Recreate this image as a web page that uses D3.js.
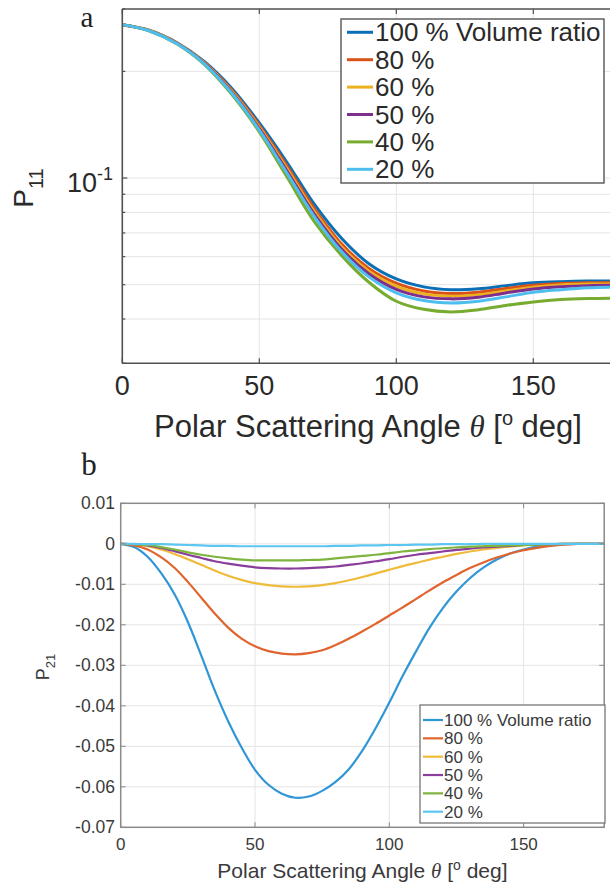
<!DOCTYPE html>
<html><head><meta charset="utf-8">
<script src="https://cdn.jsdelivr.net/npm/d3@7"></script>
<style>
body{margin:0;background:#fff;}
svg{display:block;}
svg{font-family:"Liberation Sans",Arial,Helvetica,sans-serif;}
</style>
</head><body>
<svg id="c" width="610" height="884"></svg>
<script>
// ---------- data ----------
const seriesNames = ["100 % Volume ratio","80 %","60 %","50 %","40 %","20 %"];
const seriesColorsA = ["#0b6fb6","#d95319","#edb120","#7e2f8e","#77ac30","#4dbeee"];
const seriesColorsB = ["#3096d6","#e0642e","#efbb3a","#8a3d9a","#7fb43e","#5cc6f0"];

// Panel a: P11 (log scale)
const anglesP11 = [0,10,20,30,40,50,60,70,80,90,100,110,120,130,140,150,160,170,180];
const p11_100 = [0.271,0.261,0.241,0.213,0.179,0.143,0.111,0.0845,0.0676,0.0573,0.0519,0.0493,0.0484,0.0487,0.0497,0.0506,0.0510,0.0512,0.0512];
const p11_80  = [0.271,0.261,0.2405,0.2118,0.177,0.1408,0.1085,0.0822,0.0652,0.0556,0.0505,0.0480,0.0472,0.0476,0.0488,0.0498,0.0504,0.0506,0.0507];
const p11_60  = [0.271,0.2605,0.240,0.211,0.1755,0.1392,0.1065,0.0805,0.0640,0.0546,0.0495,0.0471,0.0464,0.0468,0.0480,0.0492,0.0499,0.0502,0.0502];
const p11_50  = [0.271,0.2603,0.2397,0.2103,0.1745,0.1378,0.105,0.0792,0.063,0.0537,0.0485,0.0462,0.0456,0.0461,0.0474,0.0486,0.0493,0.0497,0.0498];
const p11_40  = [0.271,0.260,0.239,0.209,0.172,0.135,0.101,0.0755,0.0605,0.0508,0.0449,0.0426,0.0419,0.0425,0.0437,0.0447,0.0454,0.0457,0.0458];
const p11_20  = [0.271,0.2601,0.2393,0.2098,0.1735,0.1365,0.1035,0.078,0.062,0.0526,0.0474,0.0451,0.0444,0.0449,0.0462,0.0476,0.0484,0.0490,0.0492];

// Panel b: P21
const anglesP21 = [0,5,10,15,20,25,30,35,40,45,50,55,60,65,70,75,80,85,90,95,100,105,110,115,120,125,130,135,140,145,150,155,160,165,170,175,180];
const p21_100 = [0,-0.0008,-0.0032,-0.0072,-0.0124,-0.0193,-0.0276,-0.0362,-0.0438,-0.0503,-0.0558,-0.0595,-0.0617,-0.0627,-0.0624,-0.0610,-0.0588,-0.0556,-0.0510,-0.0454,-0.0392,-0.0326,-0.0265,-0.0207,-0.0158,-0.0118,-0.0085,-0.0059,-0.0039,-0.0024,-0.0014,-0.0007,-0.0003,-0.0001,0,0,0];
const p21_80  = [0,-0.0004,-0.0014,-0.0033,-0.0059,-0.0094,-0.0133,-0.0172,-0.0207,-0.0234,-0.0253,-0.0265,-0.0271,-0.0273,-0.0270,-0.0263,-0.0250,-0.0234,-0.0216,-0.0197,-0.0177,-0.0157,-0.0136,-0.0115,-0.0095,-0.0077,-0.0060,-0.0046,-0.0034,-0.0024,-0.0016,-0.0010,-0.0005,-0.0002,0,0,0];
const p21_60  = [0,-0.0001,-0.0006,-0.0014,-0.0025,-0.0038,-0.0052,-0.0066,-0.0079,-0.0089,-0.0097,-0.0102,-0.0105,-0.0106,-0.0105,-0.0102,-0.0097,-0.0090,-0.0082,-0.0073,-0.0064,-0.0055,-0.0047,-0.0039,-0.0032,-0.0025,-0.0019,-0.0014,-0.0010,-0.0007,-0.0004,-0.0002,-0.0001,0,0,0,0];
const p21_50  = [0,-0.0001,-0.0004,-0.0010,-0.0018,-0.0027,-0.0035,-0.0043,-0.0049,-0.0054,-0.0058,-0.0060,-0.0061,-0.0061,-0.0060,-0.0058,-0.0056,-0.0052,-0.0048,-0.0043,-0.0038,-0.0032,-0.0027,-0.0023,-0.0019,-0.0015,-0.0012,-0.0009,-0.0007,-0.0005,-0.0003,-0.0002,-0.0001,0,0,0,0];
const p21_40  = [0,-0.0001,-0.0003,-0.0008,-0.0014,-0.0021,-0.0027,-0.0032,-0.0036,-0.0039,-0.0041,-0.0041,-0.0041,-0.0041,-0.0040,-0.0039,-0.0036,-0.0033,-0.0030,-0.0027,-0.0023,-0.0019,-0.0016,-0.0013,-0.0011,-0.0009,-0.0007,-0.0006,-0.0005,-0.0004,-0.0003,-0.0002,-0.0001,0,0,0,0];
const p21_20  = [0,0,-0.0001,-0.0001,-0.0002,-0.0003,-0.0004,-0.0005,-0.0005,-0.0006,-0.0006,-0.0006,-0.0006,-0.0006,-0.0006,-0.0006,-0.0005,-0.0005,-0.0004,-0.0004,-0.0003,-0.0003,-0.0002,-0.0002,-0.0001,-0.0001,-0.0001,0,0,0,0,0,0,0,0,0,0];

// ticks
const xTicks = [0,50,100,150];
const yTicksP11Major = [0.1];
const yTicksP11Minor = [0.03,0.04,0.05,0.06,0.07,0.08,0.09,0.2,0.3];
const yGridP11 = [0.04,0.05,0.06,0.07,0.08,0.09,0.1,0.2];
const yTicksP21 = [0.01,0,-0.01,-0.02,-0.03,-0.04,-0.05,-0.06,-0.07];
const yTickLabelsP21 = ["0.01","0","-0.01","-0.02","-0.03","-0.04","-0.05","-0.06","-0.07"];

const P11 = [p11_100,p11_80,p11_60,p11_50,p11_40,p11_20];
const P21 = [p21_100,p21_80,p21_60,p21_50,p21_40,p21_20];

const svg = d3.select("#c");
const gridC = "#e4e4e4";
const SERIF = '"Liberation Serif","Times New Roman",Times,serif';

function axisLabel(g, x, y, size, supSize, supDy, color){
  const t = g.append("text").attr("x",x).attr("y",y).attr("text-anchor","middle").attr("font-size",size).attr("fill",color);
  t.append("tspan").text("Polar Scattering Angle ");
  t.append("tspan").style("font-family",SERIF).style("font-style","italic").text("θ");
  t.append("tspan").text(" [");
  t.append("tspan").attr("font-size",supSize).attr("dy",-supDy).text("o");
  t.append("tspan").attr("dy",supDy).text(" deg]");
  return t;
}

// ---------- panel a ----------
(function(){
  const x = d3.scaleLinear().domain([0,180]).range([122.3,615.5]);
  const y = d3.scaleLog().domain([0.03,0.3]).range([363.3,9]);
  const g = svg.append("g");
  const [x0,x1] = x.range(), [y0,y1] = y.range();
  g.append("clipPath").attr("id","clipA").append("rect").attr("x",x0).attr("y",y1).attr("width",x1-x0).attr("height",y0-y1);
  g.selectAll(".vg").data(xTicks.filter(d=>d>0)).join("line")
    .attr("x1",d=>x(d)).attr("x2",d=>x(d)).attr("y1",y1).attr("y2",y0).attr("stroke",gridC).attr("stroke-width",1);
  g.selectAll(".hg").data(yGridP11).join("line")
    .attr("x1",x0).attr("x2",x1).attr("y1",d=>y(d)).attr("y2",d=>y(d)).attr("stroke",gridC).attr("stroke-width",1);
  const line = d3.line().x((d,i)=>x(anglesP11[i])).y(d=>y(d)).curve(d3.curveCatmullRom.alpha(0.5));
  g.append("g").attr("clip-path","url(#clipA)").selectAll("path").data(P11).join("path")
    .attr("d",line).attr("fill","none").attr("stroke",(d,i)=>seriesColorsA[i]).attr("stroke-width",3);
  const axC = "#505050";
  g.append("line").attr("x1",x0).attr("x2",x0).attr("y1",y1).attr("y2",y0).attr("stroke",axC).attr("stroke-width",1.6);
  g.append("line").attr("x1",x0).attr("x2",x1).attr("y1",y0).attr("y2",y0).attr("stroke",axC).attr("stroke-width",1.6);
  g.append("line").attr("x1",x0).attr("x2",x1).attr("y1",y1).attr("y2",y1).attr("stroke",axC).attr("stroke-width",1.6);
  g.selectAll(".xtb").data(xTicks).join("line").attr("x1",d=>x(d)).attr("x2",d=>x(d)).attr("y1",y0).attr("y2",y0-5).attr("stroke",axC).attr("stroke-width",1.2);
  g.selectAll(".xtt").data(xTicks).join("line").attr("x1",d=>x(d)).attr("x2",d=>x(d)).attr("y1",y1).attr("y2",y1+5).attr("stroke",axC).attr("stroke-width",1.2);
  g.selectAll(".ytM").data(yTicksP11Major).join("line").attr("x1",x0).attr("x2",x0+5).attr("y1",d=>y(d)).attr("y2",d=>y(d)).attr("stroke",axC).attr("stroke-width",1.2);
  g.selectAll(".ytm").data(yTicksP11Minor).join("line").attr("x1",x0).attr("x2",x0+3).attr("y1",d=>y(d)).attr("y2",d=>y(d)).attr("stroke",axC).attr("stroke-width",1.2);
  g.selectAll(".xl").data(xTicks).join("text").attr("x",d=>x(d)).attr("y",395).attr("text-anchor","middle")
    .attr("font-size",27).attr("fill","#2a2a2a").text(d=>d);
  yTicksP11Major.forEach(v=>{
    const t = g.append("text").attr("x",113).attr("y",y(v)+14).attr("text-anchor","end").attr("fill","#2a2a2a").attr("font-size",27);
    t.append("tspan").text("10");
    t.append("tspan").attr("font-size",18).attr("dy",-12).text("-1");
  });
  axisLabel(g, 368, 437, 31, 20, 12, "#2a2a2a");
  const yl = g.append("text").attr("transform","translate(33,188) rotate(-90)").attr("text-anchor","middle").attr("font-size",28).attr("fill","#2a2a2a");
  yl.append("tspan").text("P");
  yl.append("tspan").attr("font-size",20).attr("dy",10).text("11");
  g.append("text").attr("x",87).attr("y",26.5).attr("text-anchor","middle").style("font-family",SERIF).attr("font-size",29).attr("fill","#222").text("a");
  const lg = g.append("g");
  lg.append("rect").attr("x",341).attr("y",19).attr("width",263).attr("height",164).attr("fill","#fff").attr("stroke","#555").attr("stroke-width",1.4);
  const rowY = d3.scaleLinear().domain([0,5]).range([32.3,169.3]);
  lg.selectAll("line").data(seriesNames).join("line").attr("x1",347).attr("x2",373).attr("y1",(d,i)=>rowY(i)).attr("y2",(d,i)=>rowY(i))
    .attr("stroke",(d,i)=>seriesColorsA[i]).attr("stroke-width",3);
  lg.selectAll("text").data(seriesNames).join("text").attr("x",375).attr("y",(d,i)=>rowY(i)+9).attr("font-size",26).attr("fill","#2a2a2a").text(d=>d);
})();

// ---------- panel b ----------
(function(){
  const x = d3.scaleLinear().domain([0,180]).range([120.7,604.2]);
  const y = d3.scaleLinear().domain([-0.07,0.01]).range([827.3,503.3]);
  const g = svg.append("g");
  const [x0,x1] = x.range(), [y0,y1] = y.range();
  g.selectAll(".vg").data(xTicks.filter(d=>d>0)).join("line")
    .attr("x1",d=>x(d)).attr("x2",d=>x(d)).attr("y1",y1).attr("y2",y0).attr("stroke",gridC).attr("stroke-width",1);
  g.selectAll(".hg").data(yTicksP21.slice(1,-1)).join("line")
    .attr("x1",x0).attr("x2",x1).attr("y1",d=>y(d)).attr("y2",d=>y(d)).attr("stroke",gridC).attr("stroke-width",1);
  const line = d3.line().x((d,i)=>x(anglesP21[i])).y(d=>y(d)).curve(d3.curveCatmullRom.alpha(0.5));
  g.append("g").selectAll("path").data(P21).join("path")
    .attr("d",line).attr("fill","none").attr("stroke",(d,i)=>seriesColorsB[i]).attr("stroke-width",2.2);
  const axC = "#8a8a8a";
  g.append("rect").attr("x",x0).attr("y",y1).attr("width",x1-x0).attr("height",y0-y1).attr("fill","none").attr("stroke",axC).attr("stroke-width",1.5);
  g.selectAll(".xtb").data(xTicks).join("line").attr("x1",d=>x(d)).attr("x2",d=>x(d)).attr("y1",y0).attr("y2",y0-5).attr("stroke",axC);
  g.selectAll(".xtt").data(xTicks).join("line").attr("x1",d=>x(d)).attr("x2",d=>x(d)).attr("y1",y1).attr("y2",y1+5).attr("stroke",axC);
  g.selectAll(".ytl").data(yTicksP21).join("line").attr("x1",x0).attr("x2",x0+5).attr("y1",d=>y(d)).attr("y2",d=>y(d)).attr("stroke",axC);
  g.selectAll(".ytr").data(yTicksP21).join("line").attr("x1",x1).attr("x2",x1-5).attr("y1",d=>y(d)).attr("y2",d=>y(d)).attr("stroke",axC);
  g.selectAll(".xl").data(xTicks).join("text").attr("x",d=>x(d)).attr("y",850).attr("text-anchor","middle")
    .attr("font-size",17).attr("fill","#3a3a3a").text(d=>d);
  g.selectAll(".yl").data(yTicksP21).join("text").attr("x",115).attr("y",d=>y(d)+6).attr("text-anchor","end")
    .attr("font-size",17.5).attr("fill","#3a3a3a").text((d,i)=>yTickLabelsP21[i]);
  axisLabel(g, (x0+x1)/2, 878, 21, 14, 8, "#3a3a3a");
  const yl = g.append("text").attr("transform","translate(49,667) rotate(-90)").attr("text-anchor","middle").attr("font-size",18).attr("fill","#3a3a3a");
  yl.append("tspan").text("P");
  yl.append("tspan").attr("font-size",13).attr("dy",6).text("21");
  g.append("text").attr("x",89).attr("y",475).attr("text-anchor","middle").style("font-family",SERIF).attr("font-size",31).attr("fill","#222").text("b");
  const lg = g.append("g");
  lg.append("rect").attr("x",420).attr("y",705).attr("width",185).attr("height",118).attr("fill","#fff").attr("stroke","#777").attr("stroke-width",1.3);
  const rowY = d3.scaleLinear().domain([0,5]).range([720,811.7]);
  lg.selectAll("line").data(seriesNames).join("line").attr("x1",423).attr("x2",443).attr("y1",(d,i)=>rowY(i)).attr("y2",(d,i)=>rowY(i))
    .attr("stroke",(d,i)=>seriesColorsB[i]).attr("stroke-width",2.2);
  lg.selectAll("text").data(seriesNames).join("text").attr("x",444).attr("y",(d,i)=>rowY(i)+6).attr("font-size",17).attr("fill","#3a3a3a").text(d=>d);
})();
</script>
</body></html>
